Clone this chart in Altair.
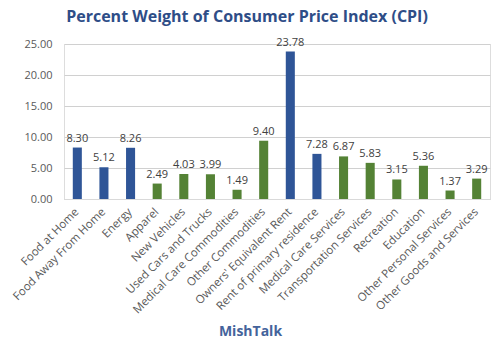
import altair as alt
import pandas as pd

categories = ["Food at Home", "Food Away From Home", "Energy", "Apparel", "New Vehicles",
              "Used Cars and Trucks", "Medical Care Commodities", "Other Commodities",
              "Owners' Equivalent Rent", "Rent of primary residence", "Medical Care Services",
              "Transportation Services", "Recreation", "Education", "Other Personal Services",
              "Other Goods and Services"]
values = [8.30, 5.12, 8.26, 2.49, 4.03, 3.99, 1.49, 9.40, 23.78, 7.28, 6.87, 5.83, 3.15, 5.36, 1.37, 3.29]
groups = ["blue", "blue", "blue", "green", "green", "green", "green", "green",
          "blue", "blue", "green", "green", "green", "green", "green", "green"]

df = pd.DataFrame({"cat": categories, "val": values, "grp": groups})

FONT = "Open Sans"

x = alt.X("cat:N", sort=categories,
          scale=alt.Scale(paddingInner=0.66, paddingOuter=0.33),
          axis=alt.Axis(title="MishTalk", labelAngle=-45, labelAlign="right", labelBaseline="middle",
                        labelPadding=11, labelFontSize=11.5, labelColor="#595959", labelFont=FONT,
                        ticks=False, domain=True, domainColor="#d9d9d9",
                        titleFont=FONT, titleFontSize=14, titleFontWeight="bold",
                        titleColor="#44639b", titleX=186, titleY=132, titleAnchor="middle",
                        titleBaseline="middle", labelLimit=250))
y = alt.Y("val:Q", scale=alt.Scale(domain=[0, 25]),
          axis=alt.Axis(title=None, values=[0, 5, 10, 15, 20, 25], format=".2f", labelOverlap=False,
                        labelFontSize=11, labelColor="#595959", labelFont=FONT, labelPadding=12,
                        ticks=False, domain=False, gridColor="#d0d0d0", gridWidth=1))

base = alt.Chart(df).encode(x=x, y=y)

bars = base.mark_bar().encode(
    color=alt.Color("grp:N", scale=alt.Scale(domain=["blue", "green"], range=["#2f5597", "#548235"]),
                    legend=None))

labels = base.mark_text(dy=-9, fontSize=11, color="#404040", font=FONT).encode(
    text=alt.Text("val:Q", format=".2f"))

chart = (bars + labels).properties(
    width=426, height=155,
    title=alt.TitleParams("Percent Weight of Consumer Price Index (CPI)", font=FONT, fontSize=16,
                          fontWeight="bold", color="#2e4d87", anchor="middle", dx=-30, offset=12),
    autosize=alt.AutoSizeParams(type="none"),
    padding={"left": 64, "top": 44, "right": 10, "bottom": 152},
).configure_view(stroke=None).configure(background="white")

chart.save("out.html", embed_options={"renderer": "svg", "actions": False})
